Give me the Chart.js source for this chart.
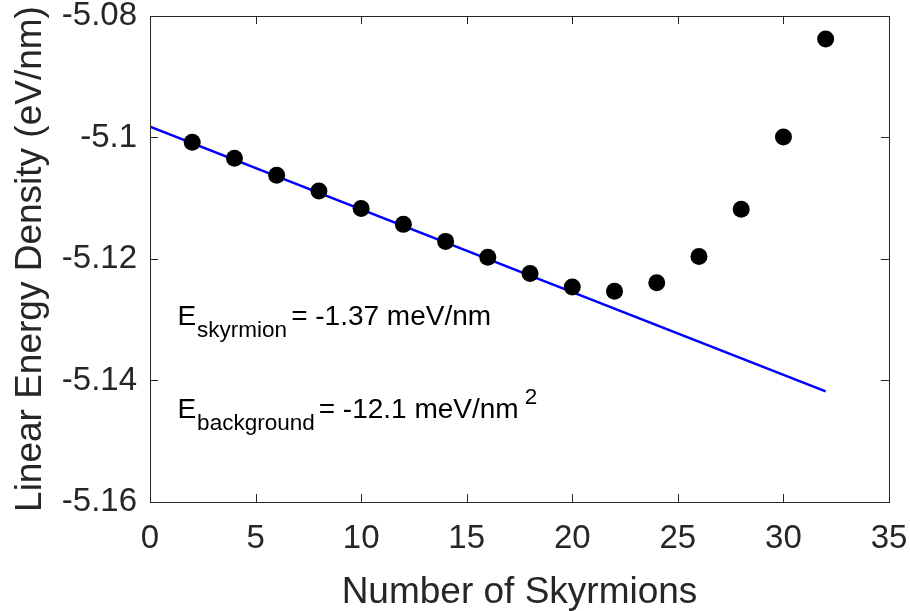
<!DOCTYPE html>
<html>
<head>
<meta charset="utf-8">
<script src="https://cdn.jsdelivr.net/npm/chart.js@4.4.0/dist/chart.umd.min.js"></script>
<style>
  html, body { margin: 0; padding: 0; background: #fff; }
  #wrap { width: 910px; height: 611px; }
</style>
</head>
<body>
<div id="wrap"><canvas id="grafEnergia"></canvas></div>
<script>
// datos
const numSkyrmions = [2, 4, 6, 8, 10, 12, 14, 16, 18, 20, 22, 24, 26, 28, 30, 32]
const energia = [-5.1008, -5.1034, -5.1062, -5.1088, -5.1117, -5.1143, -5.1171, -5.1197,
                 -5.1224, -5.1246, -5.1253, -5.1239, -5.1196, -5.1118, -5.0999, -5.0838]
const ajusteX = [0, 32]
const ajusteY = [-5.0982, -5.1418]
const ticksX = [0, 5, 10, 15, 20, 25, 30, 35]
const ticksY = [-5.16, -5.14, -5.12, -5.1, -5.08]

const FUENTE = '"Liberation Sans", Arial, Helvetica, sans-serif'
const GRIS = '#262626'

// caja y ticks hacia adentro, estilo matlab
const cajaPlugin = {
    id: 'caja',
    afterDraw(chart){
        const ctx = chart.ctx
        const a = chart.chartArea
        const sx = chart.scales.x
        const sy = chart.scales.y
        ctx.save()
        ctx.strokeStyle = GRIS
        ctx.lineWidth = 1
        ctx.strokeRect(a.left + 0.5, a.top + 0.5, a.right - a.left, a.bottom - a.top)
        ctx.beginPath()
        ticksX.forEach(v => {
            let px = Math.round(sx.getPixelForValue(v)) + 0.5
            ctx.moveTo(px, a.bottom); ctx.lineTo(px, a.bottom - 8)
            ctx.moveTo(px, a.top); ctx.lineTo(px, a.top + 8)
        })
        ticksY.forEach(v => {
            let py = Math.round(sy.getPixelForValue(v)) + 0.5
            ctx.moveTo(a.left, py); ctx.lineTo(a.left + 8, py)
            ctx.moveTo(a.right, py); ctx.lineTo(a.right - 8, py)
        })
        ctx.stroke()
        ctx.restore()
    }
}

// textos con subindices
const textoPlugin = {
    id: 'textos',
    afterDatasetsDraw(chart){
        const ctx = chart.ctx
        const sx = chart.scales.x
        const sy = chart.scales.y
        ctx.save()
        ctx.fillStyle = '#000'
        ctx.textBaseline = 'alphabetic'
        ctx.textAlign = 'left'
        function linea(xv, yv, sub, resto, sup){
            let x = sx.getPixelForValue(xv)
            let y = sy.getPixelForValue(yv)
            ctx.font = '28px ' + FUENTE
            ctx.fillText('E', x, y)
            x += ctx.measureText('E').width + 1
            ctx.font = '22.5px ' + FUENTE
            ctx.fillText(sub, x, y + 12)
            x += ctx.measureText(sub).width + 4
            ctx.font = '28px ' + FUENTE
            ctx.fillText(resto, x, y)
            if (sup) {
                x += ctx.measureText(resto).width + 6
                ctx.font = '22.5px ' + FUENTE
                ctx.fillText(sup, x, y - 14)
            }
        }
        linea(1.3, -5.1309, 'skyrmion', '= -1.37 meV/nm')
        linea(1.3, -5.1462, 'background', '= -12.1 meV/nm', '2')
        ctx.restore()
    }
}

let grafEnergia = document.getElementById('grafEnergia')

let tablaEnergia = new Chart(grafEnergia, {
    type: 'scatter',
    plugins: [cajaPlugin, textoPlugin],
    data: {
        datasets: [{
            label: 'ajuste',
            data: ajusteX.map((x, i) => ({x: x, y: ajusteY[i]})),
            showLine: true,
            borderColor: '#0000ff',
            borderWidth: 2.5,
            pointRadius: 0,
            order: 2,
        },
        {
            label: 'datos',
            data: numSkyrmions.map((x, i) => ({x: x, y: energia[i]})),
            backgroundColor: '#000',
            borderWidth: 0,
            pointRadius: 8.5,
            pointHoverRadius: 8.5,
            order: 1,
        }]
    },
    options: {
        responsive: true,
        maintainAspectRatio: false,
        animation: false,
        layout: { padding: { top: 16, right: 21, left: 0, bottom: 0 } },
        plugins: {
            legend: { display: false },
            tooltip: { enabled: false },
        },
        scales: {
            x: {
                type: 'linear',
                min: 0,
                max: 35,
                afterBuildTicks: s => { s.ticks = ticksX.map(v => ({value: v})) },
                afterFit: s => {
                    s.height = 109
                    s.paddingLeft = 0
                    s.paddingRight = 0
                },
                grid: { display: false, drawTicks: false },
                border: { display: false },
                ticks: {
                    color: GRIS,
                    font: { family: FUENTE, size: 33 },
                    padding: 17,
                    maxRotation: 0,
                },
                title: {
                    display: true,
                    text: 'Number of Skyrmions',
                    color: GRIS,
                    font: { family: FUENTE, size: 37, lineHeight: 1 },
                    padding: { top: 0, bottom: 0 },
                },
            },
            y: {
                type: 'linear',
                min: -5.16,
                max: -5.08,
                afterBuildTicks: s => { s.ticks = ticksY.map(v => ({value: v})) },
                afterFit: s => {
                    s.width = 150
                    s.paddingTop = 0
                    s.paddingBottom = 0
                },
                grid: { display: false, drawTicks: false },
                border: { display: false },
                ticks: {
                    color: GRIS,
                    font: { family: FUENTE, size: 33 },
                    padding: 13,
                    callback: v => String(parseFloat(v.toFixed(2))),
                },
                title: {
                    display: true,
                    text: 'Linear Energy Density (eV/nm)',
                    color: GRIS,
                    font: { family: FUENTE, size: 37, lineHeight: 1 },
                    padding: { top: 12, bottom: 0 },
                },
            },
        },
    },
})
</script>
</body>
</html>
